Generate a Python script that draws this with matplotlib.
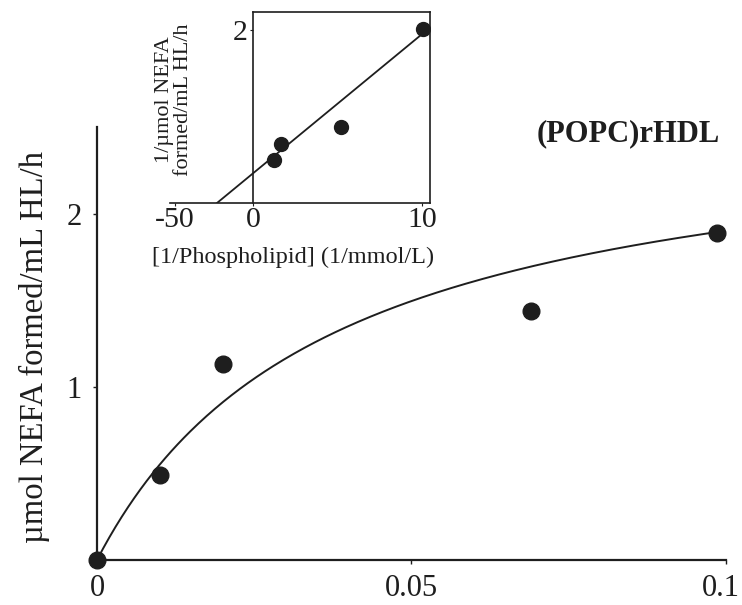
import numpy as np
import matplotlib
matplotlib.use("Agg")
import matplotlib.pyplot as plt
import matplotlib.transforms as mtransforms

plt.rcParams['font.family'] = ['Liberation Serif', 'DejaVu Serif']

# hydrolysis rate vs phospholipid concentration
conc = [0.0, 0.01, 0.02, 0.069, 0.0985]
rate = [0.0, 0.49, 1.13, 1.44, 1.89]

# Michaelis-Menten curve parameters
vmax = 2.61
km = 0.0373

# double-reciprocal plot (inset)
inv_conc = [1.24, 1.66, 5.2, 10.06]
inv_rate = [0.50, 0.68, 0.88, 2.01]
fit_x = [-23.0, 10.1]
fit_y = [0.0, 1.97]

ink = '#1e1e1e'

fig = plt.figure(figsize=(7.42, 6.05), dpi=100)
ax = fig.add_axes([0.1307, 0.0744, 0.8477, 0.7157])

s = np.linspace(0, 0.0985, 300)
ax.plot(s, vmax * s / (km + s), color=ink, lw=1.4)
ax.plot(conc, rate, 'o', color=ink, ms=12, clip_on=False)

ax.set_xlim(0, 0.1)
ax.set_ylim(0, 2.5)
ax.set_xticks([0, 0.05, 0.1])
ax.set_xticklabels(['0', '0.05', '0.1'])
ax.set_yticks([1, 2])
for side in ['top', 'right']:
    ax.spines[side].set_visible(False)
for side in ['left', 'bottom']:
    ax.spines[side].set_linewidth(1.6)
    ax.spines[side].set_color(ink)
ax.tick_params(axis='both', length=3, width=1, color=ink, labelsize=22, labelcolor=ink)
ax.tick_params(axis='y', pad=8)
ax.tick_params(axis='x', pad=7)
# keep the last x label inside the figure
last = ax.get_xticklabels()[-1]
last.set_transform(last.get_transform() +
                   mtransforms.ScaledTranslation(-5 / 100, 0, fig.dpi_scale_trans))

fig.text(34 / 742, 0.426, 'µmol NEFA formed/mL HL/h', rotation=90, fontsize=23.5,
         color=ink, ha='center', va='center')
ax.text(0.0845, 2.46, '(POPC)rHDL', fontsize=22, fontweight='bold', color=ink,
        ha='center', va='center')

# inset: negative side of x is compressed so -50 fits next to the box
c = 0.0924


def fwd(x):
    x = np.asarray(x, dtype=float)
    return np.where(x < 0, x * c, x)


def inv(x):
    x = np.asarray(x, dtype=float)
    return np.where(x < 0, x / c, x)


ins = fig.add_axes([0.2291, 0.6645, 0.3504, 0.3157])
ins.set_xscale('function', functions=(fwd, inv))
ins.set_xlim(-53.1, 10.47)
ins.set_ylim(0, 2.21)
ins.plot(fit_x, fit_y, color=ink, lw=1.3)
ins.plot(inv_conc, inv_rate, 'o', color=ink, ms=10)

ins.spines['left'].set_position(('data', 0))
ins.spines['top'].set_bounds(0, 10.47)
for sp in ins.spines.values():
    sp.set_linewidth(1.2)
    sp.set_color(ink)
ins.set_xticks([-50, 0, 10])
ins.set_xticklabels(['-50', '0', '10'])
ins.set_yticks([2])
ins.tick_params(axis='both', length=2, width=0.8, color=ink, labelsize=21.5, labelcolor=ink)
ins.tick_params(axis='x', pad=1)
ins.tick_params(axis='y', pad=2)
ins.set_xlabel('[1/Phospholipid] (1/mmol/L)', fontsize=17.5, color=ink)
ins.xaxis.set_label_coords(0.475, -0.23)
fig.text(174 / 742, 1 - 100 / 605, '1/µmol NEFA\nformed/mL HL/h', rotation=90,
         fontsize=16, color=ink, ha='center', va='center', linespacing=0.95)

fig.savefig('out.png', dpi=100, facecolor='white')
